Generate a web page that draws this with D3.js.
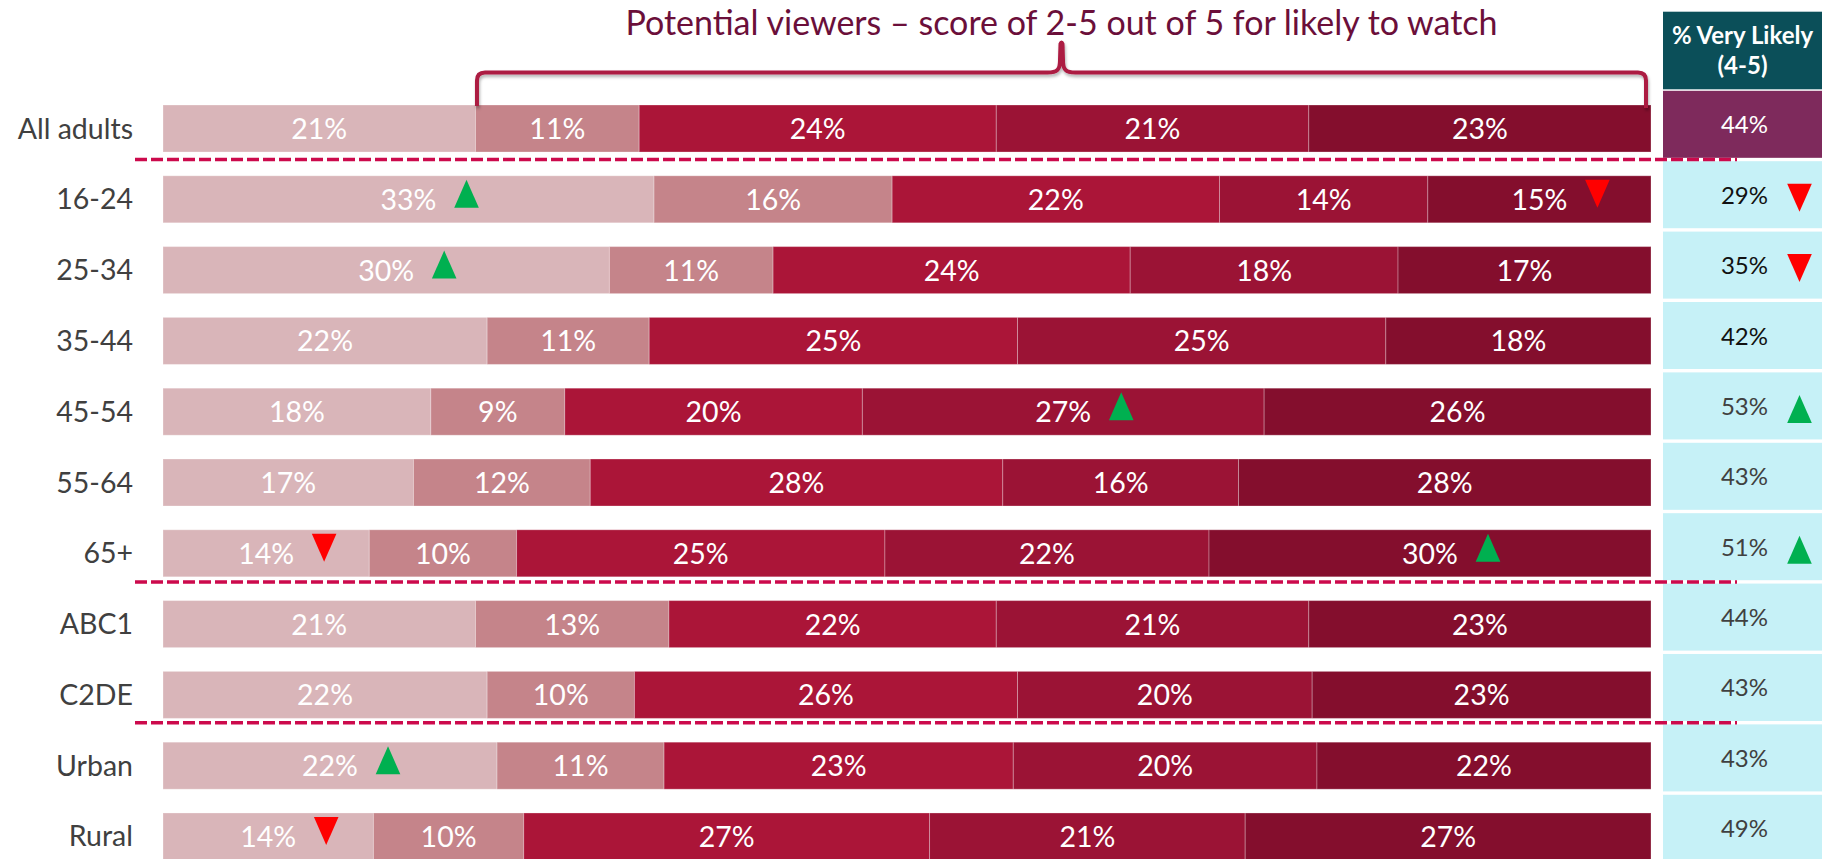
<!DOCTYPE html>
<html>
<head>
<meta charset="utf-8">
<script src="https://cdn.jsdelivr.net/npm/d3@7/dist/d3.min.js"></script>
<style>
  html, body { margin: 0; padding: 0; background: #ffffff; }
  svg { display: block; }
  text { font-family: Lato, "Open Sans", "Noto Sans", sans-serif; }
</style>
</head>
<body>
<svg id="chart" width="1822" height="859"></svg>
<script>
// Audience groups, top to bottom
const categories = ["All adults", "16-24", "25-34", "35-44", "45-54", "55-64", "65+", "ABC1", "C2DE", "Urban", "Rural"];

// Share of each group giving a likelihood-to-watch score of 1..5 (%)
const score1 = [21, 33, 30, 22, 18, 17, 14, 21, 22, 22, 14];
const score2 = [11, 16, 11, 11,  9, 12, 10, 13, 10, 11, 10];
const score3 = [24, 22, 24, 25, 20, 28, 25, 22, 26, 23, 27];
const score4 = [21, 14, 18, 25, 27, 16, 22, 21, 20, 20, 21];
const score5 = [23, 15, 17, 18, 26, 28, 30, 23, 23, 22, 27];

// % Very likely (score 4-5)
const veryLikely = [44, 29, 35, 42, 53, 43, 51, 44, 43, 43, 49];

// Significance flags on bar segments: [group, score index, direction]
const segmentFlags = [
  ["16-24", 0, "up"], ["16-24", 4, "down"],
  ["25-34", 0, "up"],
  ["45-54", 3, "up"],
  ["65+", 0, "down"], ["65+", 4, "up"],
  ["Urban", 0, "up"],
  ["Rural", 0, "down"]
];
// Significance flags on the very-likely column: [group, direction]
const veryLikelyFlags = [["16-24", "down"], ["25-34", "down"], ["45-54", "up"], ["65+", "up"]];

// Groups after which a dashed divider is drawn
const groupBreaks = ["All adults", "65+", "C2DE"];

const titleText = "Potential viewers \u2013 score of 2-5 out of 5 for likely to watch";
const headerLines = ["% Very Likely", "(4-5)"];

// ---------------------------------------------------------------
(function draw() {
const svg = d3.select("#chart");
const series = [score1, score2, score3, score4, score5];
const segColors = ["#d9b5b9", "#c5848a", "#ab1538", "#9b1335", "#840e2d"];

const barLeft = 163, barRight = 1651;
const y = d3.scaleBand().domain(categories).range([105, 860]).paddingInner(0.336).paddingOuter(0);
const cellY = d3.scaleBand().domain(categories).range([90.8, 861.8]).paddingInner(0.048).paddingOuter(0);
const cellX0 = 1663, cellX1 = 1822;

const defs = svg.append("defs");
const shadow = defs.append("filter").attr("id", "brace-shadow")
  .attr("x", "-5%").attr("y", "-50%").attr("width", "110%").attr("height", "200%");
shadow.append("feDropShadow").attr("dx", 1).attr("dy", 2.5).attr("stdDeviation", 1.6)
  .attr("flood-color", "#000").attr("flood-opacity", 0.3);

// One x scale per row so each stacked bar spans the full width
const rows = categories.map((c, i) => {
  const vals = series.map(s => s[i]);
  const total = d3.sum(vals);
  const x = d3.scaleLinear().domain([0, total]).range([barLeft, barRight]);
  let acc = 0;
  const segs = vals.map((v, k) => {
    const s = { k, v, x0: x(acc), x1: x(acc + v) };
    acc += v;
    return s;
  });
  return { cat: c, i, segs, x };
});

const tri = (cx, cy, dir) => {
  const w = 24.6, h = 28;
  return dir === "up"
    ? `M${cx - w / 2},${cy + h / 2} L${cx + w / 2},${cy + h / 2} L${cx},${cy - h / 2} Z`
    : `M${cx - w / 2},${cy - h / 2} L${cx + w / 2},${cy - h / 2} L${cx},${cy + h / 2} Z`;
};
const triColor = dir => dir === "up" ? "#00b050" : "#ff0000";

// Row labels
svg.append("g").selectAll("text").data(categories).join("text")
  .attr("x", 133)
  .attr("y", d => y(d) + y.bandwidth() / 2 + 10)
  .attr("text-anchor", "end")
  .attr("font-size", 28.5)
  .attr("fill", "#404040")
  .text(d => d);

// Stacked bars
const rowG = svg.append("g").selectAll("g").data(rows).join("g");
rowG.selectAll("rect").data(r => r.segs.map(s => ({ ...s, cat: r.cat }))).join("rect")
  .attr("x", s => s.x0)
  .attr("y", s => y(s.cat))
  .attr("width", s => s.x1 - s.x0)
  .attr("height", y.bandwidth())
  .attr("fill", s => segColors[s.k])
  .attr("stroke", "#ffffff")
  .attr("stroke-opacity", 0.28)
  .attr("stroke-width", 1);

rowG.selectAll("text").data(r => r.segs.map(s => ({ ...s, cat: r.cat }))).join("text")
  .attr("x", s => (s.x0 + s.x1) / 2)
  .attr("y", s => y(s.cat) + y.bandwidth() / 2 + 10.5)
  .attr("text-anchor", "middle")
  .attr("font-size", 28.5)
  .attr("fill", "#ffffff")
  .text(s => s.v + "%");

// Segment significance markers
const rowByCat = new Map(rows.map(r => [r.cat, r]));
svg.append("g").selectAll("path").data(segmentFlags).join("path")
  .attr("d", ([cat, k, dir]) => {
    const s = rowByCat.get(cat).segs[k];
    return tri((s.x0 + s.x1) / 2 + 58, y(cat) + 18, dir);
  })
  .attr("fill", d => triColor(d[2]));

// Very-likely column
svg.append("rect").attr("x", cellX0).attr("y", 11.7)
  .attr("width", cellX1 - cellX0).attr("height", 77.6).attr("fill", "#0b4f59");
svg.append("g").selectAll("text").data(headerLines).join("text")
  .attr("x", (cellX0 + cellX1) / 2)
  .attr("y", (d, i) => 44 + i * 30)
  .attr("text-anchor", "middle")
  .attr("font-size", 24)
  .attr("font-weight", "bold")
  .attr("fill", "#ffffff")
  .text(d => d);

const darkText = new Set(["16-24", "25-34", "35-44"]);
const cells = svg.append("g").selectAll("g").data(categories).join("g");
cells.append("rect")
  .attr("x", cellX0)
  .attr("y", d => cellY(d))
  .attr("width", cellX1 - cellX0)
  .attr("height", cellY.bandwidth())
  .attr("fill", (d, i) => i === 0 ? "#7e2a5c" : "#c6f1f7");
cells.append("text")
  .attr("x", (cellX0 + cellX1) / 2 + 2)
  .attr("y", d => cellY(d) + cellY.bandwidth() / 2 + 9)
  .attr("text-anchor", "middle")
  .attr("font-size", 24)
  .attr("fill", (d, i) => i === 0 ? "#ffffff" : darkText.has(d) ? "#111111" : "#404040")
  .text((d, i) => veryLikely[i] + "%");

svg.append("g").selectAll("path").data(veryLikelyFlags).join("path")
  .attr("d", ([cat, dir]) => tri(1799.5, cellY(cat) + cellY.bandwidth() / 2 + 3, dir))
  .attr("fill", d => triColor(d[1]));

// Dashed group dividers, centred in the gap between column cells
const gapMid = d => cellY(d) + cellY.bandwidth() + cellY.step() * cellY.paddingInner() / 2;
svg.append("g").selectAll("line").data(groupBreaks).join("line")
  .attr("x1", 135).attr("x2", 1737)
  .attr("y1", gapMid)
  .attr("y2", gapMid)
  .attr("stroke", "#cc0a4c")
  .attr("stroke-width", 3.5)
  .attr("stroke-dasharray", "12 4");

// Brace spanning scores 2-5 of the "All adults" bar
const firstRow = rows[0];
const bx0 = firstRow.segs[1].x0 + 1.5;
const bx1 = firstRow.segs[4].x1 - 5;
const by = 72.5, byBottom = y(categories[0]) + 1, tipY = 42, r = 8;
const bm = (bx0 + bx1) / 2;
const bracePath = [
  `M${bx0},${byBottom}`,
  `V${by + r}`,
  `Q${bx0},${by} ${bx0 + r},${by}`,
  `H${bm - 14}`,
  `C${bm - 4},${by} ${bm - 1.5},${by - 3} ${bm - 1.5},${by - 12}`,
  `L${bm - 1},${tipY + 2}`,
  `Q${bm},${tipY - 1} ${bm + 1},${tipY + 2}`,
  `L${bm + 1.5},${by - 12}`,
  `C${bm + 1.5},${by - 3} ${bm + 4},${by} ${bm + 14},${by}`,
  `H${bx1 - r}`,
  `Q${bx1},${by} ${bx1},${by + r}`,
  `V${byBottom + 2}`
].join(" ");
svg.append("path")
  .attr("d", bracePath)
  .attr("fill", "none")
  .attr("stroke", "#ac1a42")
  .attr("stroke-width", 4)
  .attr("stroke-linejoin", "round")
  .attr("filter", "url(#brace-shadow)");

// Title
svg.append("text")
  .attr("x", bm)
  .attr("y", 35)
  .attr("text-anchor", "middle")
  .attr("font-size", 34)
  .attr("fill", "#6b0f3a")
  .text(titleText);
})();
</script>
</body>
</html>
